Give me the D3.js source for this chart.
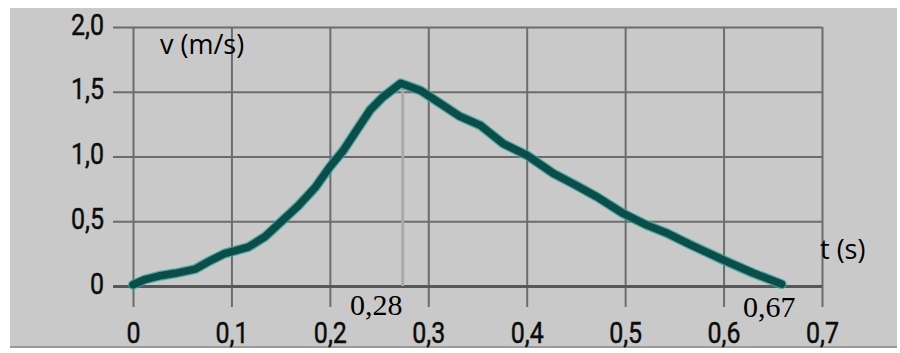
<!DOCTYPE html>
<html>
<head>
<meta charset="utf-8">
<script src="https://cdn.jsdelivr.net/npm/d3@7"></script>
<style>
  body { margin: 0; background: #fff; }
  .tick text { font-family: Roboto, "Liberation Sans", sans-serif; font-weight: 400; }
  .lbl { font-family: "Open Sans", "Liberation Sans", sans-serif; }
  .note { font-family: "Liberation Serif", "Times New Roman", Times, serif; }
</style>
</head>
<body>
<div id="chartContainer"></div>
<script>
// values
var times = [0, 0.012, 0.026, 0.043, 0.063, 0.077, 0.093, 0.117, 0.134, 0.151, 0.168, 0.185,
  0.200, 0.214, 0.227, 0.241, 0.254, 0.272, 0.281, 0.292, 0.312, 0.332, 0.353, 0.376, 0.400,
  0.427, 0.447, 0.471, 0.498, 0.522, 0.542, 0.566, 0.600, 0.630, 0.659];
var speeds = [0.01, 0.05, 0.077, 0.098, 0.13, 0.19, 0.25, 0.30, 0.38, 0.50, 0.62, 0.76,
  0.92, 1.05, 1.20, 1.36, 1.46, 1.565, 1.54, 1.51, 1.41, 1.31, 1.24, 1.10, 1.01,
  0.87, 0.79, 0.69, 0.56, 0.47, 0.41, 0.32, 0.20, 0.10, 0.015];
var xTicks = [0, 0.1, 0.2, 0.3, 0.4, 0.5, 0.6, 0.7];
var yTicks = [0, 0.5, 1.0, 1.5, 2.0];
var notes = [["0,28", 0.28], ["0,67", 0.67]];

var W = 900, H = 353;
var svg = d3.select("#chartContainer").append("svg")
  .attr("width", W).attr("height", H);

var x = d3.scaleLinear().domain([0, 0.7]).range([133, 822]);
var y = d3.scaleLinear().domain([0, 2]).range([286, 27]);
var fmt = function (d) { return d === 0 ? "0" : d.toFixed(1).replace(".", ","); };
var stretch = 1.17;

svg.append("rect")
  .attr("x", 10).attr("y", 8).attr("width", 887).attr("height", 339)
  .style("fill", "#c9c9c9");
svg.append("line")
  .attr("x1", 10).attr("x2", 897).attr("y1", 347).attr("y2", 347)
  .style("stroke", "#9a9a9a").style("stroke-width", 2);

// vertical grid + x labels
var xa = svg.append("g")
  .attr("transform", "translate(0,307)")
  .call(d3.axisBottom(x).tickValues(xTicks).tickSize(-280).tickFormat(fmt));
xa.attr("font-family", null).attr("font-size", null);
xa.select(".domain").remove();
xa.selectAll("line").style("stroke", "#6c6c6c").style("stroke-width", 2);
xa.selectAll("text")
  .attr("y", 0).attr("dy", null)
  .attr("transform", "translate(0,36) scale(1," + stretch + ")")
  .style("font-size", "25px")
  .style("fill", "#0c0c0c")
  .style("stroke", "#0c0c0c").style("stroke-width", 0.4);

// horizontal grid + y labels
var ya = svg.append("g")
  .attr("transform", "translate(113,0)")
  .call(d3.axisLeft(y).tickValues(yTicks).tickSize(-709).tickFormat(fmt));
ya.attr("font-family", null).attr("font-size", null);
ya.select(".domain").remove();
ya.selectAll("line").style("stroke", "#6c6c6c").style("stroke-width", 2);
ya.selectAll(".tick").filter(function (d) { return d === 0; })
  .select("line").style("stroke", "#575757").style("stroke-width", 3);
ya.selectAll("text")
  .attr("x", 0).attr("y", 0).attr("dy", null)
  .attr("transform", "translate(-9,7) scale(1," + stretch + ")")
  .style("font-size", "25px")
  .style("fill", "#0c0c0c")
  .style("stroke", "#0c0c0c").style("stroke-width", 0.4);

// marker at the peak
var peak = d3.maxIndex(speeds);
svg.append("line")
  .attr("x1", x(times[peak]) + 2).attr("x2", x(times[peak]) + 2)
  .attr("y1", y(speeds[peak]) + 4).attr("y2", y(0))
  .style("stroke", "#a9a9a9").style("stroke-width", 3);

var pts = times.map(function (t, i) { return [t, speeds[i]]; });
var line = d3.line()
  .x(function (d) { return x(d[0]); })
  .y(function (d) { return y(d[1]); });

svg.append("path").datum(pts)
  .attr("d", line)
  .style("fill", "none")
  .style("stroke", "#3aa39b")
  .style("stroke-width", 10)
  .style("stroke-linejoin", "round").style("stroke-linecap", "round")
  .style("opacity", 0.8);
svg.append("path").datum(pts)
  .attr("d", line)
  .style("fill", "none")
  .style("stroke", "#0a4d49")
  .style("stroke-width", 7.5)
  .style("stroke-linejoin", "round").style("stroke-linecap", "round");

svg.append("text").attr("class", "lbl")
  .attr("x", 160).attr("y", 54)
  .style("font-size", "27px")
  .text("v (m/s)");
svg.append("text").attr("class", "lbl")
  .attr("x", 820).attr("y", 259)
  .style("font-size", "27px")
  .text("t (s)");

svg.selectAll("text.note")
  .data(notes)
  .enter()
  .append("text")
  .attr("class", "note")
  .attr("x", function (d, i) { return i === 0 ? 350 : 743; })
  .attr("y", function (d, i) { return i === 0 ? 315 : 317; })
  .style("font-size", "30px")
  .text(function (d) { return d[0]; });
</script>
</body>
</html>
